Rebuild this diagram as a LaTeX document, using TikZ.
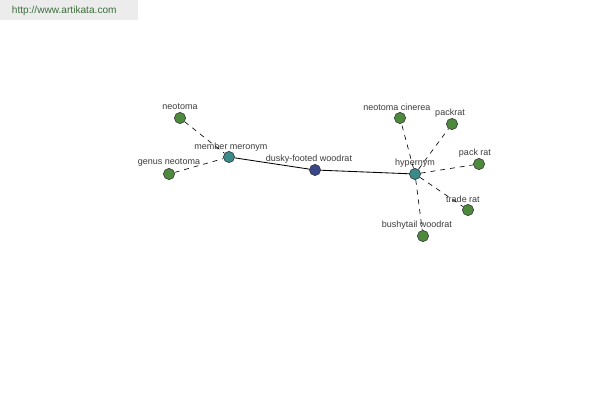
\documentclass[tikz,border=0pt]{standalone}
\usepackage{fontspec}
\setmainfont{Liberation Sans}
\usepackage{tikz}

\definecolor{leaf}{RGB}{78,138,62}
\definecolor{rel}{RGB}{58,138,138}
\definecolor{word}{RGB}{58,70,138}
\definecolor{txt}{RGB}{60,60,60}
\definecolor{hdr}{RGB}{236,236,236}
\definecolor{hdrtxt}{RGB}{60,110,60}

\tikzset{
  dot/.style={draw=black!80,circle,inner sep=0pt,minimum size=8pt,line width=0.4pt},
  lbl/.style={text=txt,font=\fontsize{6.4}{7}\selectfont,inner sep=0pt},
  dsh/.style={dash pattern=on 3.5pt off 3.5pt,line width=0.45pt},
}

\begin{document}
\begin{tikzpicture}[x=0.025cm,y=-0.025cm]
\useasboundingbox (0,0) rectangle (600,400);
\fill[white] (0,0) rectangle (600,400);
\fill[hdr] (0,0) rectangle (138,20);
\node[text=hdrtxt,font=\fontsize{7.2}{8}\selectfont,anchor=west] (url) at (7,11) {http://www.artikata.com};

\node[dot,fill=leaf] (neotoma) at (180,118) {};
\node[lbl] (l1) at (180,107) {neotoma};

\node[dot,fill=leaf] (genus) at (169,174) {};
\node[lbl] (l2) at (169,163) {genus neotoma};

\node[dot,fill=rel] (meronym) at (229,157) {};
\node[lbl] (l3) at (231,147) {member meronym};

\node[dot,fill=word] (woodrat) at (315,170) {};
\node[lbl] (l4) at (309,159) {dusky-footed woodrat};

\node[dot,fill=rel] (hypernym) at (415,174) {};
\node[lbl] (l5) at (415,163) {hypernym};

\node[dot,fill=leaf] (cinerea) at (400,118) {};
\node[lbl] (l6) at (397,107) {neotoma cinerea};

\node[dot,fill=leaf] (packrat) at (452,124) {};
\node[lbl] (l7) at (450,113) {packrat};

\node[dot,fill=leaf] (packrat2) at (479,164) {};
\node[lbl] (l8) at (475,153) {pack rat};

\node[dot,fill=leaf] (traderat) at (468,210) {};
\node[lbl] (l9) at (463,199) {trade rat};

\node[dot,fill=leaf] (bushytail) at (423,236) {};
\node[lbl] (l10) at (417,225) {bushytail woodrat};

% links
\draw[dsh] (neotoma) -- (meronym);
\draw[dsh] (genus) -- (meronym);
\draw[line width=0.6pt] (meronym) -- (woodrat);
\draw[line width=0.6pt] (woodrat) -- (hypernym);
\draw[dsh] (hypernym) -- (cinerea);
\draw[dsh] (hypernym) -- (packrat);
\draw[dsh] (hypernym) -- (packrat2);
\draw[dsh] (hypernym) -- (traderat);
\draw[dsh] (hypernym) -- (bushytail);
\end{tikzpicture}
\end{document}
